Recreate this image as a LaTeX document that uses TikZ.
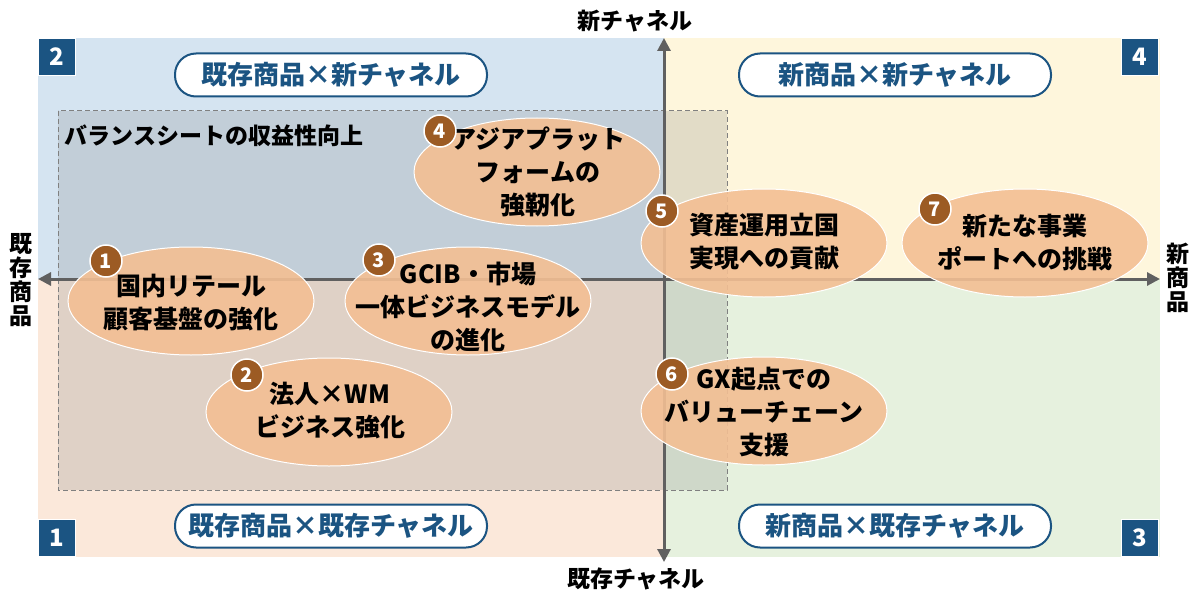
\documentclass[tikz,border=0pt]{standalone}
\usepackage{fontspec}
\setmainfont{Noto Sans CJK JP}
\usetikzlibrary{shapes.geometric,arrows.meta}

\definecolor{qblue}{HTML}{D5E4F1}
\definecolor{qcream}{HTML}{FEF6DC}
\definecolor{qpeach}{HTML}{FBE8DA}
\definecolor{qgreen}{HTML}{E6F1DE}
\definecolor{navy}{HTML}{1B5482}
\definecolor{peach}{HTML}{F3BF93}
\definecolor{rust}{HTML}{9C5B24}
\definecolor{axisgray}{HTML}{606060}

\tikzset{
	quadnum/.style={fill=navy, draw=white, line width=1.5pt, text=white, minimum size=37, inner sep=0,
		font=\bfseries\fontsize{24}{24}\selectfont},
	quadtag/.style={draw=navy, line width=2pt, fill=white, rounded corners=21, minimum width=312,
		minimum height=43, inner sep=0, text=navy, font=\bfseries\fontsize{26}{26}\selectfont},
	blob/.style={ellipse, fill=peach, draw=white, line width=1pt, fill opacity=0.9,
		minimum width=246, minimum height=108, inner sep=0},
	blobtext/.style={align=center, font=\bfseries\fontsize{25}{33}\selectfont},
	blobnum/.style={circle, fill=rust, draw=white, line width=1.5pt, text=white, minimum size=32,
		inner sep=0, font=\bfseries\fontsize{20}{20}\selectfont},
	axislabel/.style={align=center, font=\bfseries\fontsize{23}{24}\selectfont},
	axisline/.style={draw=axisgray, line width=3pt,
		{Triangle[length=13pt,width=13pt]}-{Triangle[length=13pt,width=13pt]}}
}

\begin{document}
\begin{tikzpicture}[x=1pt,y=-1pt]
	\useasboundingbox (0,0) rectangle (1194,591);

	% quadrants
	\fill[qblue] (38,38) rectangle (664,279);
	\fill[qcream] (664,38) rectangle (1160,279);
	\fill[qpeach] (38,279) rectangle (664,557);
	\fill[qgreen] (664,279) rectangle (1160,557);

	\draw[axisgray!80, dash pattern=on 5pt off 3pt, line width=1pt, fill=black!50, fill opacity=0.22]
		(58,111) rectangle (727,490);
	\node[anchor=west, font=\bfseries\fontsize{23}{23}\selectfont] (bs) at (61,136) {バランスシートの収益性向上};

	% axes
	\coordinate (west) at (38,279);
	\coordinate (east) at (1160,279);
	\coordinate (north) at (664,38);
	\coordinate (south) at (664,562);
	\draw[axisline] (west) -- (east);
	\draw[axisline] (south) -- (north);

	\node[axislabel] (newch) at (635,21) {新チャネル};
	\node[axislabel] (oldch) at (636,579) {既存チャネル};
	\node[axislabel] (oldprod) at (21,280) {既\\存\\商\\品};
	\node[axislabel] (newprod) at (1178,278) {新\\商\\品};

	\node[quadnum] (q2) at (57,57) {2};
	\node[quadnum] (q4) at (1140,57) {4};
	\node[quadnum] (q1) at (57,538) {1};
	\node[quadnum] (q3) at (1140,538) {3};

	\node[quadtag] (tag2) at (331,75) {既存商品×新チャネル};
	\node[quadtag] (tag4) at (895,75) {新商品×新チャネル};
	\node[quadtag] (tag1) at (331,526) {既存商品×既存チャネル};
	\node[quadtag] (tag3) at (895,526) {新商品×既存チャネル};

	% initiatives
	\node[blob] (b1) at (191,301) {};
	\node[blob] (b2) at (329,412) {};
	\node[blob] (b3) at (468,301) {};
	\node[blob] (b4) at (537,172) {};
	\node[blob] (b5) at (764,243) {};
	\node[blob] (b6) at (764,411) {};
	\node[blob] (b7) at (1025,243) {};

	\node[blobtext] (t1) at (191,303) {国内リテール\\顧客基盤の強化};
	\node[blobtext] (t2) at (330,411) {法人×WM\\ビジネス強化};
	\node[blobtext] (t3) at (468,307) {GCIB・市場\\一体ビジネスモデル\\の進化};
	\node[blobtext] (t4) at (538,172) {アジアプラット\\フォームの\\強靭化};
	\node[blobtext] (t5) at (764,242) {資産運用立国\\実現への貢献};
	\node[blobtext] (t6) at (764,412) {GX起点での\\バリューチェーン\\支援};
	\node[blobtext] (t7) at (1025,243) {新たな事業\\ポートへの挑戦};

	\node[blobnum] (n1) at (106,261) {1};
	\node[blobnum] (n2) at (247,375) {2};
	\node[blobnum] (n3) at (379,260) {3};
	\node[blobnum] (n4) at (440,131) {4};
	\node[blobnum] (n5) at (662,211) {5};
	\node[blobnum] (n6) at (672,374) {6};
	\node[blobnum] (n7) at (935,209) {7};
\end{tikzpicture}
\end{document}
